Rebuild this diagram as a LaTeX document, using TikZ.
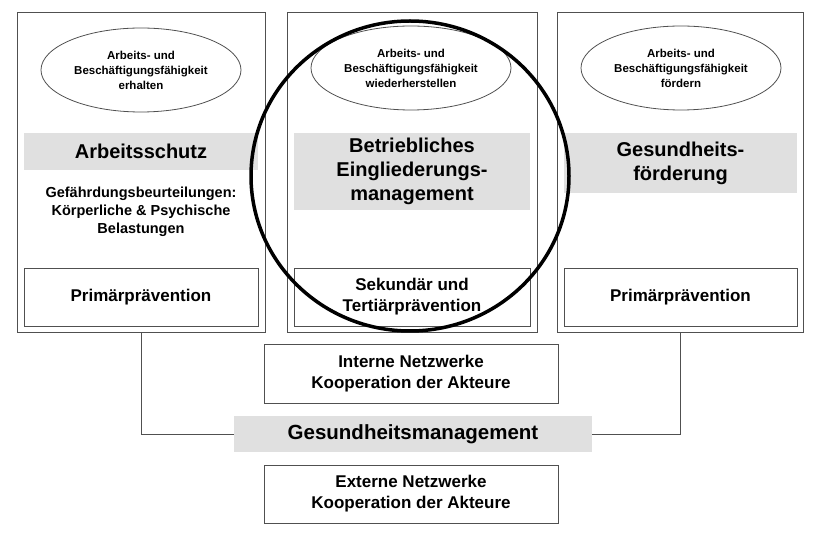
\documentclass[tikz,border=0pt]{standalone}
\usepackage{fontspec}
\setmainfont{Liberation Sans}
\usetikzlibrary{shapes.geometric}
\definecolor{band}{HTML}{E0E0E0}
\definecolor{edge}{HTML}{505050}
\begin{document}
\begin{tikzpicture}[x=1pt,y=-1pt,
  col/.style={draw=edge,line width=0.8pt},
  ell/.style={draw=edge,line width=0.8pt,ellipse,minimum width=200pt,minimum height=84pt,inner sep=0pt,align=center,font=\bfseries\fontsize{11.5}{15}\selectfont},
  bandn/.style={fill=band,inner sep=0pt,align=center,font=\bfseries\fontsize{20}{24}\selectfont},
  boxn/.style={draw=edge,line width=0.8pt,inner sep=0pt,align=center,font=\bfseries\fontsize{17}{21}\selectfont},
  small/.style={align=center,font=\bfseries\fontsize{14.5}{18}\selectfont},
  conn/.style={draw=edge,line width=0.8pt}]
\useasboundingbox (0,0) rectangle (820,534);
% columns
\node[col,minimum width=248pt,minimum height=320pt] (cL) at (141,172) {};
\node[col,minimum width=250pt,minimum height=320pt] (cM) at (412,172) {};
\node[col,minimum width=246pt,minimum height=320pt] (cR) at (680,172) {};
% ellipses
\node[ell] (eL) at (141,70) {Arbeits- und\\Beschäftigungsfähigkeit\\erhalten};
\node[ell] (eM) at (411,68) {Arbeits- und\\Beschäftigungsfähigkeit\\wiederherstellen};
\node[ell] (eR) at (681,68) {Arbeits- und\\Beschäftigungsfähigkeit\\fördern};
% bands
\node[bandn,minimum width=234pt,minimum height=37pt] (bL) at (141,151.5) {Arbeitsschutz};
\node[bandn,minimum width=236pt,minimum height=77pt] (bM) at (412,171.5) {Betriebliches\\Eingliederungs-\\management};
\node[bandn,minimum width=233pt,minimum height=60pt] (bR) at (680.5,163) {Gesundheits-\\förderung};
\node[small] (gL) at (141,212) {Gefährdungsbeurteilungen:\\Körperliche \& Psychische\\Belastungen};
% bottom boxes
\node[boxn,minimum width=234pt,minimum height=58pt] (pL) at (141,297) {Primärprävention};
\node[boxn,minimum width=236pt,minimum height=58pt] (pM) at (412,297) {Sekundär und\\Tertiärprävention};
\node[boxn,minimum width=233pt,minimum height=58pt] (pR) at (680.5,297) {Primärprävention};
% circle
\node[draw=black,line width=3.5pt,ellipse,minimum width=318pt,minimum height=310pt] (circ) at (410,176) {};
% lower boxes
\node[boxn,minimum width=294pt,minimum height=59pt] (iN) at (411,373.5) {Interne Netzwerke\\Kooperation der Akteure};
\node[bandn,minimum width=358pt,minimum height=36pt,font=\bfseries\fontsize{20.5}{24}\selectfont] (gM) at (413,434) {Gesundheitsmanagement};
\node[boxn,minimum width=294pt,minimum height=58pt] (eN) at (411,494) {Externe Netzwerke\\Kooperation der Akteure};
% connectors
\draw[conn] (cL.south) |- (gM.west);
\draw[conn] (cR.south) |- (gM.east);
\end{tikzpicture}
\end{document}
